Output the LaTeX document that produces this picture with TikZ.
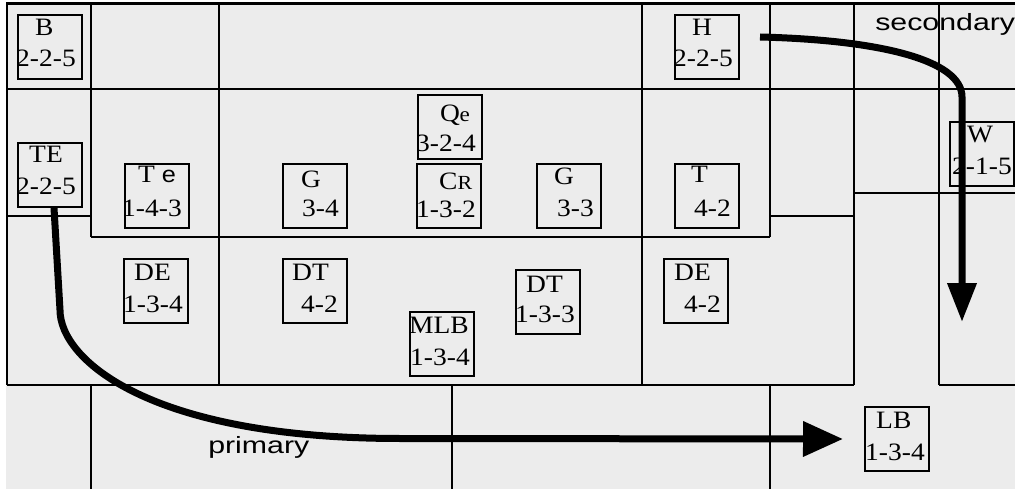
\documentclass[tikz,border=0pt]{standalone}
\usepackage{fontspec}
\setmainfont{Liberation Serif}
\newfontfamily\sansf{Liberation Sans}
\usetikzlibrary{arrows.meta}
\definecolor{bg}{HTML}{ECECEC}
\begin{document}
\begin{tikzpicture}[x=1pt,y=-1pt,
  gridline/.style={line width=2pt},
  room/.style={draw, line width=2pt, fill=bg, minimum width=64pt, minimum height=64pt, inner sep=0pt, anchor=north west},
  lab/.style={anchor=base west, inner sep=0pt, font=\fontsize{25}{25}\selectfont, xscale=1.1},
  sanslab/.style={anchor=base west, inner sep=0pt, font=\sansf\fontsize{23.5}{24}\selectfont, xscale=1.29},
  flow/.style={line width=7pt, line join=round}]
\useasboundingbox (0,0) rectangle (1015,489);
\fill[white] (0,0) rectangle (1015,489);
\fill[bg] (6,4) rectangle (1015,489);
% grid
\draw[line width=3pt] (6,4) -- (1015,4);
\draw[gridline] (7,4) -- (7,385);
\draw[gridline] (7,89) -- (1015,89);
\draw[gridline] (7,385) -- (854,385);
\draw[gridline] (939,385) -- (1015,385);
\draw[gridline] (7,216) -- (91,216);
\draw[gridline] (770,216) -- (854,216);
\draw[gridline] (91,237) -- (770,237);
\draw[gridline] (854,193) -- (1015,193);
\draw[gridline] (91,4) -- (91,237);
\draw[gridline] (91,385) -- (91,489);
\draw[line width=1.5pt] (219,4) -- (219,385);
\draw[line width=1.5pt] (642,4) -- (642,385);
\draw[gridline] (770,4) -- (770,237);
\draw[gridline] (770,385) -- (770,489);
\draw[gridline] (854,4) -- (854,385);
\draw[gridline] (939,4) -- (939,385);
\draw[gridline] (452,385) -- (452,489);
% rooms
\node[room] (B) at (17,14) {};
\node[lab] (B1) at (35,36) {B};
\node[lab] (B2) at (16,67) {2-2-5};
\node[room] (TE) at (17,142) {};
\node[lab] (TE1) at (29,163) {TE};
\node[lab] (TE2) at (16,195) {2-2-5};
\node[room] (Te) at (124,163) {};
\node[lab] (Te1) at (138,183) {T {\sansf\fontsize{23}{23}\selectfont e}};
\node[lab] (Te2) at (122,217) {1-4-3};
\node[room] (G1) at (282,163) {};
\node[lab] (G11) at (301,188) {G};
\node[lab] (G12) at (302,217) {3-4};
\node[room] (Qe) at (417,94) {};
\node[lab] (Qe1) at (440,122) {Q\kern-0.5pt{\fontsize{21}{21}\selectfont e}};
\node[lab] (Qe2) at (416,152) {3-2-4};
\node[room] (CR) at (416,163) {};
\node[lab] (CR1) at (439,190) {C{\fontsize{20}{20}\selectfont R}};
\node[lab] (CR2) at (416,218) {1-3-2};
\node[room] (G2) at (536,163) {};
\node[lab] (G21) at (554,185) {G};
\node[lab] (G22) at (557,217) {3-3};
\node[room] (H) at (674,14) {};
\node[lab] (H1) at (692,36) {H};
\node[lab] (H2) at (673,67) {2-2-5};
\node[room] (T) at (674,163) {};
\node[lab] (T1) at (691,183) {T};
\node[lab] (T2) at (694,217) {4-2};
\node[room] (W) at (949,121) {};
\node[lab] (W1) at (967,143) {W};
\node[lab] (W2) at (952,175) {2-1-5};
\node[room] (DE1) at (123,258) {};
\node[lab] (DE11) at (134,280) {DE};
\node[lab] (DE12) at (123,312) {1-3-4};
\node[room] (DT1) at (282,258) {};
\node[lab] (DT11) at (292,280) {DT};
\node[lab] (DT12) at (301,312) {4-2};
\node[room] (MLB) at (409,311) {};
\node[lab] (MLB1) at (409,333) {MLB};
\node[lab] (MLB2) at (410,365) {1-3-4};
\node[room] (DT2) at (515,269) {};
\node[lab] (DT21) at (526,292) {DT};
\node[lab] (DT22) at (515,322) {1-3-3};
\node[room] (DE2) at (663,258) {};
\node[lab] (DE21) at (674,280) {DE};
\node[lab] (DE22) at (684,312) {4-2};
\node[room] (LB) at (864,406) {};
\node[lab] (LB1) at (876,428) {LB};
\node[lab] (LB2) at (865,460) {1-3-4};
% labels
\node[sanslab] (sec) at (875,31) {secondary};
\node[sanslab] (pri) at (208,453) {primary};
% flows
\coordinate (pend) at ([xshift=-21pt]LB.west);
\draw[flow, -{Triangle[length=40pt,width=34pt]}] ([xshift=4pt]TE.south) -- (60,310) .. controls (60,360) and (150,438.5) .. (400,438.5) -- (pend);
\coordinate (s0) at (760,37);
\coordinate (send) at (962,322);
\draw[flow, -{Triangle[length=39pt,width=28pt]}] (s0) .. controls (880,40) and (962,60) .. (962,97) -- (send);
\end{tikzpicture}
\end{document}
